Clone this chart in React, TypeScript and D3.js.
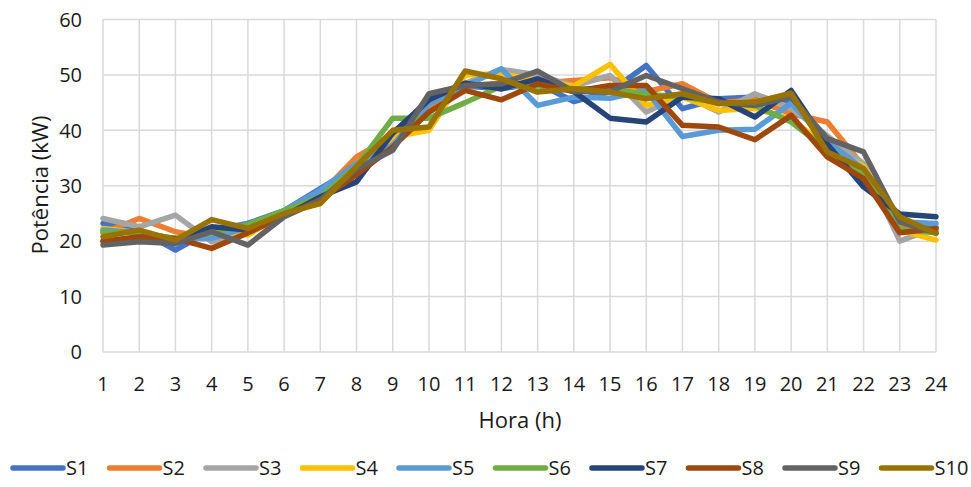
import React from "react";
import * as d3 from "d3";

const hours = d3.range(1, 25);
const yTicks = [0, 10, 20, 30, 40, 50, 60];

const seriesNames = ["S1", "S2", "S3", "S4", "S5", "S6", "S7", "S8", "S9", "S10"];
const seriesColors = ["#4472C4", "#ED7D31", "#A5A5A5", "#FFC000", "#5B9BD5", "#70AD47", "#264478", "#9E480E", "#636363", "#997300"];

const s1 = [23.2, 22.0, 18.4, 22.0, 23.2, 25.5, 29.5, 33.5, 38.5, 45.0, 48.0, 47.5, 48.5, 45.2, 47.0, 51.7, 43.9, 45.7, 46.0, 45.0, 38.0, 32.0, 23.0, 22.5];
const s2 = [21.5, 24.1, 21.7, 20.5, 21.5, 25.0, 28.5, 35.2, 39.0, 44.0, 48.0, 48.5, 48.5, 49.0, 49.5, 47.0, 48.4, 45.0, 45.5, 43.0, 41.5, 33.5, 22.5, 22.0];
const s3 = [24.1, 22.6, 24.7, 19.9, 21.5, 25.0, 28.0, 34.0, 38.5, 46.0, 48.5, 51.0, 50.0, 48.0, 49.9, 43.3, 46.5, 43.3, 46.6, 44.0, 39.0, 34.0, 20.0, 22.5];
const s4 = [22.3, 21.5, 20.0, 22.0, 21.1, 25.0, 28.0, 33.0, 38.8, 40.0, 50.0, 50.2, 49.0, 48.0, 51.9, 44.5, 46.0, 43.6, 44.0, 42.0, 37.0, 33.5, 22.0, 20.2];
const s5 = [22.0, 21.5, 20.5, 20.5, 22.5, 25.5, 29.2, 34.0, 37.3, 44.8, 48.0, 51.1, 44.5, 46.0, 45.8, 47.2, 38.9, 40.0, 40.2, 44.9, 38.0, 33.0, 23.5, 23.2];
const s6 = [21.7, 21.5, 20.5, 21.5, 23.0, 25.5, 28.0, 33.5, 42.2, 42.2, 45.0, 48.0, 48.0, 47.5, 47.5, 46.5, 46.0, 45.0, 44.5, 41.5, 36.5, 32.0, 22.1, 21.5];
const s7 = [20.0, 20.5, 20.0, 22.6, 22.0, 24.5, 28.0, 30.7, 39.5, 45.5, 48.5, 47.5, 49.3, 47.0, 42.2, 41.5, 46.0, 45.7, 42.4, 47.2, 37.5, 29.8, 24.9, 24.4];
const s8 = [20.0, 20.8, 20.5, 18.7, 21.5, 24.5, 27.5, 32.0, 37.0, 43.3, 47.2, 45.5, 48.4, 47.0, 48.1, 48.1, 40.9, 40.6, 38.3, 42.7, 35.2, 31.3, 21.5, 22.3];
const s9 = [19.3, 19.9, 19.6, 21.7, 19.3, 24.4, 27.4, 33.0, 36.4, 46.6, 48.1, 48.4, 50.7, 47.0, 47.0, 49.9, 47.5, 45.1, 44.5, 46.0, 38.5, 36.1, 23.5, 21.5];
const s10 = [20.8, 22.0, 20.2, 23.9, 22.3, 25.0, 26.8, 33.5, 40.0, 40.6, 50.7, 49.3, 46.9, 47.5, 46.9, 45.7, 46.6, 44.8, 45.1, 46.7, 36.1, 33.1, 24.4, 21.4];

const seriesValues = [s1, s2, s3, s4, s5, s6, s7, s8, s9, s10];

const W = 971;
const H = 487;
const FONT = "'Open Sans', 'Liberation Sans', sans-serif";
const TEXT = "#1a1a1a";

export default function App() {
  const x = d3.scaleLinear().domain([1, 24]).range([103, 936]);
  const y = d3.scaleLinear().domain([0, 60]).range([352, 19.5]);
  const line = d3
    .line<number>()
    .x((_, i) => x(hours[i]))
    .y((d) => y(d));

  const legendX0 = 11;
  const legendStep = 96.5;
  const legendY = 468;

  return (
    <svg
      width={W}
      height={H}
      style={{ position: "absolute", left: 0, top: 0, background: "#fff" }}
      fontFamily={FONT}
    >
      {/* grid */}
      {yTicks.map((t) => (
        <line key={"h" + t} x1={x(1)} x2={x(24)} y1={y(t)} y2={y(t)} stroke="#D9D9D9" strokeWidth={1.5} />
      ))}
      {hours.map((h) => (
        <line key={"v" + h} x1={x(h)} x2={x(h)} y1={y(0)} y2={y(60)} stroke="#D9D9D9" strokeWidth={1.5} />
      ))}

      {/* y tick labels */}
      {yTicks.map((t) => (
        <text key={"yt" + t} x={82} y={y(t)} dy="0.36em" textAnchor="end" fontSize={20} fill={TEXT}>
          {t}
        </text>
      ))}
      {/* x tick labels */}
      {hours.map((h) => (
        <text key={"xt" + h} x={x(h)} y={384} dy="0.36em" textAnchor="middle" fontSize={20} fill={TEXT}>
          {h}
        </text>
      ))}

      {/* axis titles */}
      <text x={520} y={420} dy="0.36em" textAnchor="middle" fontSize={22} fill={TEXT}>
        Hora (h)
      </text>
      <text
        transform={`translate(40,185) rotate(-90)`}
        dy="0.36em"
        textAnchor="middle"
        fontSize={22}
        fill={TEXT}
      >
        Potência (kW)
      </text>

      {/* series */}
      {seriesValues.map((vals, i) => (
        <path
          key={seriesNames[i]}
          d={line(vals) || ""}
          fill="none"
          stroke={seriesColors[i]}
          strokeWidth={5.5}
          strokeLinejoin="round"
          strokeLinecap="round"
        />
      ))}

      {/* legend */}
      {seriesNames.map((name, i) => {
        const lx = legendX0 + i * legendStep;
        return (
          <g key={"lg" + name}>
            <line x1={lx + 2} x2={lx + 52} y1={legendY} y2={legendY} stroke={seriesColors[i]} strokeWidth={5.5} strokeLinecap="round" />
            <text x={lx + 55} y={legendY} dy="0.36em" fontSize={20} fill={TEXT}>
              {name}
            </text>
          </g>
        );
      })}
    </svg>
  );
}
